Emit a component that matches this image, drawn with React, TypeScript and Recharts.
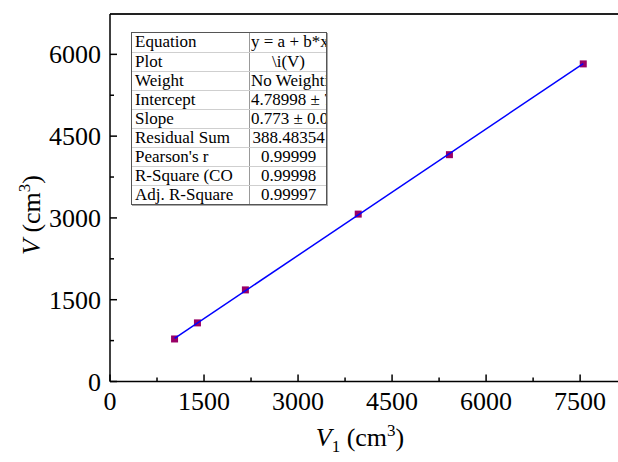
import React from 'react';
import { ScatterChart, Scatter, XAxis, YAxis, ReferenceLine } from 'recharts';

// Measured data (V1, V) in cm^3
const v1Values = [1030, 1395, 2160, 3960, 5415, 7550];
const vValues = [780, 1075, 1680, 3070, 4160, 5825];
// Linear fit line endpoints
const fitV1 = [1030, 7550];
const fitV = [790, 5830];

const xMajorTicks = [0, 1500, 3000, 4500, 6000, 7500];
const xMinorTicks = [750, 2250, 3750, 5250, 6750];
const yMajorTicks = [0, 1500, 3000, 4500, 6000];
const yMinorTicks = [750, 2250, 3750, 5250];
const xDomain = [0, 8200];
const yDomain = [0, 6740];

const tableLabels = ['Equation', 'Plot', 'Weight', 'Intercept', 'Slope', 'Residual Sum', "Pearson's r", 'R-Square (CO', 'Adj. R-Square'];
const tableValues = ['y = a + b*x', '\\i(V)', 'No Weighting', '4.78998 ± 7', '0.773 ± 0.0', '388.48354', '0.99999', '0.99998', '0.99997'];

const FONT = '"Liberation Serif", "Times New Roman", serif';

const points = v1Values.map((x, i) => ({ x, y: vValues[i] }));
const fitLine = fitV1.map((x, i) => ({ x, y: fitV[i] }));

const XTick = (props: any) => {
  const { x, y, payload } = props;
  const major = xMajorTicks.includes(payload.value);
  return (
    <g>
      <line x1={x} x2={x} y1={y} y2={y - (major ? 7 : 4)} stroke="#000" strokeWidth={1.5} />
      {major && (
        <text x={x} y={y + 28} textAnchor="middle" fontSize={26} fontFamily={FONT} fill="#000">
          {payload.value}
        </text>
      )}
    </g>
  );
};

const YTick = (props: any) => {
  const { x, y, payload } = props;
  const major = yMajorTicks.includes(payload.value);
  return (
    <g>
      <line x1={x} x2={x + (major ? 7 : 4)} y1={y} y2={y} stroke="#000" strokeWidth={1.5} />
      {major && (
        <text x={x - 9} y={y + 9} textAnchor="end" fontSize={26} fontFamily={FONT} fill="#000">
          {payload.value}
        </text>
      )}
    </g>
  );
};

const XTitle = (props: any) => {
  const vb = props.viewBox;
  const cx = vb.x + 250;
  const by = vb.y + 64;
  return (
    <text x={cx} y={by} textAnchor="middle" fontSize={26} fontFamily={FONT} fill="#000">
      <tspan fontStyle="italic">V</tspan>
      <tspan fontSize={17} dy={6}>1</tspan>
      <tspan dy={-6}> (cm</tspan>
      <tspan fontSize={17} dy={-10}>3</tspan>
      <tspan dy={10}>)</tspan>
    </text>
  );
};

const YTitle = (props: any) => {
  const vb = props.viewBox;
  const bx = vb.x + 40;
  const cy = 215;
  return (
    <text x={bx} y={cy} transform={`rotate(-90, ${bx}, ${cy})`} textAnchor="middle" fontSize={26} fontFamily={FONT} fill="#000">
      <tspan fontStyle="italic">V</tspan>
      <tspan> (cm</tspan>
      <tspan fontSize={17} dy={-10}>3</tspan>
      <tspan dy={10}>)</tspan>
    </text>
  );
};

const Square = (p: any) => (
  <rect x={p.cx - 3.5} y={p.cy - 3.5} width={7} height={7} fill="#990066" />
);

const Empty = () => <g />;

const StatsTable = () => (
  <div
    style={{
      position: 'absolute',
      left: 131,
      top: 32,
      width: 196,
      border: '1.5px solid #555',
      boxSizing: 'border-box',
      background: '#fff',
      fontFamily: FONT,
      fontSize: 17,
      color: '#000',
      boxShadow: '1px 1px 0 #aaa',
    }}
  >
    {tableLabels.map((lab, i) => (
      <div
        key={lab}
        style={{
          display: 'flex',
          height: 19,
          lineHeight: '18px',
          boxSizing: 'border-box',
          borderTop: i === 0 ? 'none' : '1px solid #cfcfcf',
        }}
      >
        <div
          style={{
            width: 118,
            paddingLeft: 3,
            boxSizing: 'border-box',
            borderRight: '1px solid #999',
            overflow: 'hidden',
            whiteSpace: 'nowrap',
          }}
        >
          {lab}
        </div>
        <div
          style={{
            flex: 1,
            textAlign: 'center',
            overflow: 'hidden',
            whiteSpace: 'nowrap',
            paddingLeft: 1,
          }}
        >
          {tableValues[i]}
        </div>
      </div>
    ))}
  </div>
);

export default function App() {
  return (
    <div style={{ position: 'absolute', left: 0, top: 0, width: 618, height: 462, overflow: 'hidden', background: '#fff' }}>
      <ScatterChart width={640} height={462} margin={{ top: 14, right: 16, left: 0, bottom: 0.5 }}>
        <XAxis
          dataKey="x"
          type="number"
          domain={xDomain}
          ticks={[...xMajorTicks, ...xMinorTicks].sort((a, b) => a - b)}
          interval={0}
          tickSize={0}
          tickMargin={0}
          tickLine={false}
          tick={<XTick />}
          axisLine={{ stroke: '#000', strokeWidth: 1.5 }}
          height={80}
          allowDataOverflow
          label={<XTitle />}
        />
        <YAxis
          dataKey="y"
          type="number"
          domain={yDomain}
          ticks={[...yMajorTicks, ...yMinorTicks].sort((a, b) => a - b)}
          interval={0}
          tickSize={0}
          tickMargin={0}
          tickLine={false}
          tick={<YTick />}
          axisLine={{ stroke: '#000', strokeWidth: 1.5 }}
          width={110}
          allowDataOverflow
          label={<YTitle />}
        />
        <ReferenceLine y={yDomain[1]} stroke="#222" strokeWidth={2} />
        <Scatter data={points} shape={<Square />} isAnimationActive={false} />
        <Scatter
          data={fitLine}
          shape={<Empty />}
          line={{ stroke: '#0000FF', strokeWidth: 1.5 }}
          lineType="joint"
          isAnimationActive={false}
        />
      </ScatterChart>
      <StatsTable />
    </div>
  );
}
